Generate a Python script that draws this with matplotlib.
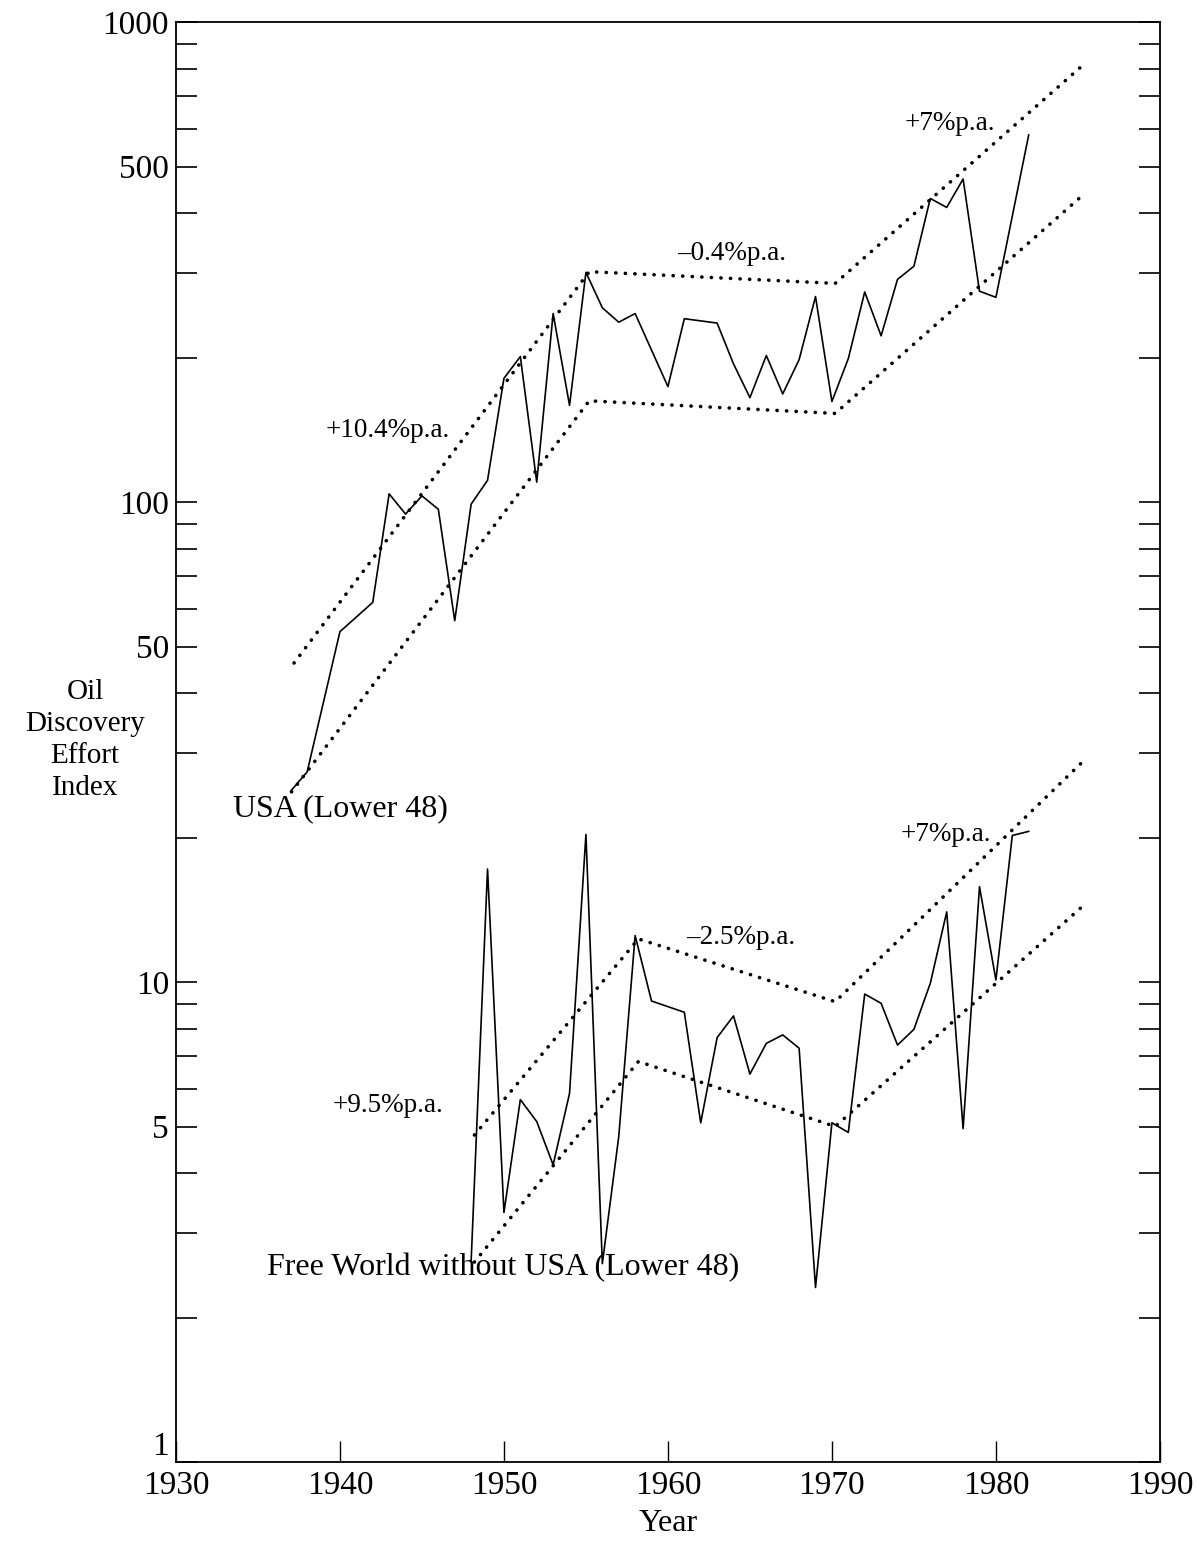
import matplotlib
matplotlib.use("Agg")
import matplotlib.pyplot as plt

plt.rcParams['font.family'] = ['Liberation Serif', 'DejaVu Serif']

# USA (Lower 48) - indice
usa_annees = [1937, 1938, 1940, 1942, 1943, 1944, 1945, 1946, 1947, 1948, 1949,
              1950, 1951, 1952, 1953, 1954, 1955, 1956, 1957, 1958, 1960, 1961,
              1963, 1964, 1965, 1966, 1967, 1968, 1969, 1970, 1971, 1972, 1973,
              1974, 1975, 1976, 1977, 1978, 1979, 1980, 1982]
usa_indice = [25, 27.4, 53.7, 61.8, 104, 94.4, 103, 96.6, 56.6, 99, 111,
              181, 201, 110, 247, 159, 301, 254, 237, 247, 174, 241,
              236, 194, 165, 202, 168, 198, 268, 162, 199, 274, 222,
              291, 310, 429, 411, 471, 275, 267, 582]

# Free World sans USA (Lower 48)
fw_annees = [1948, 1949, 1950, 1951, 1952, 1953, 1954, 1955, 1956, 1957, 1958,
             1959, 1961, 1962, 1963, 1964, 1965, 1966, 1967, 1968, 1969, 1970,
             1971, 1972, 1973, 1974, 1975, 1976, 1977, 1978, 1979, 1980, 1981, 1982]
fw_indice = [2.62, 17.2, 3.31, 5.69, 5.12, 4.16, 5.86, 20.3, 2.59, 4.76, 12.5,
             9.13, 8.65, 5.09, 7.66, 8.5, 6.43, 7.45, 7.76, 7.28, 2.31, 5.09,
             4.86, 9.44, 9.03, 7.39, 7.97, 9.94, 14.0, 4.95, 15.8, 10.1, 20.2, 20.6]

# tendances (pointillés)
usa_haut_x = [1937.2, 1955.2, 1970.2, 1985.3]
usa_haut_y = [46.2, 302, 285.5, 813]
usa_bas_x = [1937.05, 1955.2, 1970.2, 1985.3]
usa_bas_y = [24.9, 162.5, 153, 436]
fw_haut_x = [1948.2, 1958.2, 1970.2, 1985.3]
fw_haut_y = [4.8, 12.3, 9.1, 28.8]
fw_bas_x = [1948.2, 1958.2, 1970.2, 1985.3]
fw_bas_y = [2.61, 6.83, 5.0, 14.4]

yticks = [1, 5, 10, 50, 100, 500, 1000]
yticks_min = [2, 3, 4, 6, 7, 8, 9, 20, 30, 40, 60, 70, 80, 90,
              200, 300, 400, 600, 700, 800, 900]
xticks = [1930, 1940, 1950, 1960, 1970, 1980, 1990]

fig = plt.figure(figsize=(11.97, 15.55), dpi=100)
ax = fig.add_axes([0.147, 0.0598, 0.822, 0.926])

ax.plot(usa_annees, usa_indice, color='black', lw=1.2)
ax.plot(fw_annees, fw_indice, color='black', lw=1.2)

pointille = dict(color='black', lw=2.6, linestyle=(0, (0.05, 2.6)),
                 dash_capstyle='round')
ax.plot(usa_haut_x, usa_haut_y, **pointille)
ax.plot(usa_bas_x, usa_bas_y, **pointille)
ax.plot(fw_haut_x, fw_haut_y, **pointille)
ax.plot(fw_bas_x, fw_bas_y, **pointille)

ax.set_yscale('log')
ax.set_xlim(1930, 1990)
ax.set_ylim(1, 1000)
ax.set_yticks(yticks)
ax.set_yticklabels([str(v) for v in yticks])
ax.set_yticks(yticks_min, minor=True)
ax.set_yticklabels([], minor=True)
ax.set_xticks(xticks)
ax.set_xticklabels([str(v) for v in xticks])

ax.tick_params(axis='y', which='both', direction='in', left=True, right=True,
               length=15, width=1.2, labelsize=24, pad=5)
ax.tick_params(axis='x', which='both', direction='in', bottom=True, top=False,
               length=15, width=1.0, labelsize=24, pad=6)
ax.get_yticklabels()[0].set_verticalalignment('bottom')
for s in ax.spines.values():
    s.set_linewidth(1.3)

# annotations
ax.text(1942.9, 141, "+10.4%p.a.", fontsize=19.5, ha='center', va='center')
ax.text(1963.9, 330, "\u20130.4%p.a.", fontsize=19.5, ha='center', va='center')
ax.text(1977.2, 616, "+7%p.a.", fontsize=19.5, ha='center', va='center')
ax.text(1940.0, 23.0, "USA (Lower 48)", fontsize=23, ha='center', va='center')
ax.text(1942.9, 5.52, "+9.5%p.a.", fontsize=19.5, ha='center', va='center')
ax.text(1964.45, 12.4, "\u20132.5%p.a.", fontsize=19.5, ha='center', va='center')
ax.text(1976.95, 20.3, "+7%p.a.", fontsize=19.5, ha='center', va='center')
ax.text(1949.94, 2.54, "Free World without USA (Lower 48)", fontsize=23,
        ha='center', va='center')

fig.text(0.071, 0.524, "Oil\nDiscovery\nEffort\nIndex", fontsize=21,
         ha='center', va='center', multialignment='center', linespacing=1.3)
fig.text(0.558, 0.020, "Year", fontsize=23, ha='center', va='center')

plt.savefig("out.png", dpi=100)
